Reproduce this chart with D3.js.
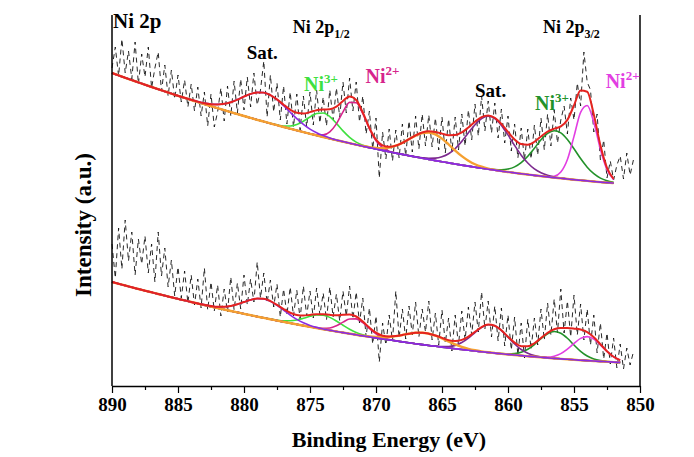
<!DOCTYPE html>
<html>
<head>
<meta charset="utf-8">
<script src="https://cdn.jsdelivr.net/npm/d3@7"></script>
<style>
  html, body { margin: 0; padding: 0; background: #ffffff; }
  svg { display: block; font-family: "Liberation Serif", "Times New Roman", serif; font-weight: bold; }
</style>
</head>
<body>
<svg id="chart" width="694" height="457"></svg>
<script>
// Ni 2p XPS spectra: two samples, raw counts with fitted components.

// Axis ticks (binding energy, eV)
const majorTicks = [890, 885, 880, 875, 870, 865, 860, 855, 850];
const minorTicks = [887.5, 882.5, 877.5, 872.5, 867.5, 862.5, 857.5, 852.5];

// Fit components (same order for both spectra)
const peakNames = ["Sat.", "Ni3+", "Ni2+", "Sat.", "Sat.", "Ni3+", "Ni2+"];
const peakCentersTop = [878.4, 874.0, 871.7, 865.9, 861.4, 856.4, 854.1];
const peakHeightsTop = [29, 24, 43, 27, 53, 47, 76];
const peakFwhmTop = [4.2, 2.8, 2.2, 3.8, 3.9, 3.6, 2.0];
const peakCentersBottom = [878.5, 874.0, 871.6, 866.3, 861.3, 856.4, 854.0];
const peakHeightsBottom = [19, 14, 16, 12, 28, 27, 24];
const peakFwhmBottom = [3.6, 3.1, 2.3, 3.8, 3.1, 3.0, 2.7];

// Backgrounds, every 0.5 eV from 890 eV
const bgTop = [
  315.0, 312.6, 310.2, 307.9, 305.6, 303.3, 301.0, 298.8, 296.6, 294.4,
  292.2, 290.1, 288.0, 285.9, 283.8, 281.8, 279.8, 277.8, 275.8, 273.9,
  272.0, 270.1, 268.2, 266.4, 264.6, 262.8, 261.0, 259.3, 257.6, 255.9,
  254.2, 252.6, 251.0, 249.4, 247.8, 246.3, 244.8, 243.3, 241.8, 240.4,
  239.0, 237.6, 236.2, 234.9, 233.6, 232.3, 231.0, 229.8, 228.6, 227.4,
  226.3, 225.1, 224.0, 222.9, 221.9, 220.8, 219.8, 218.8, 217.9, 216.9,
  216.0, 215.1, 214.3, 213.5, 212.6, 211.9, 211.1, 210.4, 209.7, 209.0,
  208.3, 207.7, 207.1, 206.5, 205.9, 205.4, 204.9
];
const bgBottom = [
  106.0, 104.2, 102.5, 100.7, 99.0, 97.3, 95.7, 94.0, 92.4, 90.7,
  89.1, 87.6, 86.0, 84.5, 82.9, 81.4, 79.9, 78.5, 77.0, 75.6,
  74.2, 72.8, 71.4, 70.1, 68.8, 67.4, 66.1, 64.9, 63.6, 62.4,
  61.2, 60.0, 58.8, 57.6, 56.5, 55.4, 54.3, 53.2, 52.1, 51.1,
  50.1, 49.0, 48.1, 47.1, 46.1, 45.2, 44.3, 43.4, 42.5, 41.7,
  40.9, 40.0, 39.2, 38.5, 37.7, 37.0, 36.3, 35.6, 34.9, 34.2,
  33.6, 33.0, 32.4, 31.8, 31.2, 30.7, 30.1, 29.6, 29.1, 28.7,
  28.2, 27.8, 27.4, 27.0, 26.6, 26.3, 25.9, 25.6
];

// Raw counts, every 0.25 eV from 890 eV
const rawTop = [
  320, 341, 312, 349, 315, 337, 309, 346, 304, 334,
  311, 341, 300, 320, 336, 297, 323, 292, 318, 289,
  313, 286, 308, 281, 304, 277, 301, 272, 296, 262,
  294, 261, 276, 300, 267, 302, 272, 307, 275, 309,
  278, 311, 281, 315, 283, 298, 327, 271, 313, 276,
  305, 268, 302, 264, 296, 261, 294, 258, 292, 261,
  296, 263, 298, 265, 291, 262, 298, 268, 300, 271,
  306, 275, 310, 277, 306, 266, 292, 254, 277, 239,
  270, 210, 256, 229, 259, 227, 258, 230, 264, 232,
  267, 236, 272, 239, 274, 242, 273, 241, 270, 238,
  271, 235, 269, 236, 271, 238, 274, 242, 278, 248,
  284, 252, 292, 257, 287, 255, 285, 250, 279, 245,
  272, 237, 264, 230, 260, 228, 259, 229, 263, 233,
  270, 238, 274, 242, 278, 245, 268, 282, 254, 290,
  268, 305, 282, 336, 306, 298, 256, 274, 228, 248,
  210, 227, 208, 223, 232, 209, 235, 213, 228
];
const rawBottom = [
  144, 110, 160, 119, 168, 127, 156, 113, 149, 124,
  152, 115, 144, 106, 156, 112, 140, 101, 128, 92,
  121, 90, 117, 85, 113, 83, 109, 80, 120, 78,
  106, 77, 103, 72, 99, 76, 111, 78, 105, 79,
  113, 83, 109, 86, 126, 90, 115, 85, 108, 81,
  104, 71, 99, 73, 101, 72, 98, 69, 102, 72,
  97, 70, 100, 73, 95, 68, 101, 71, 94, 67,
  97, 72, 102, 69, 96, 65, 90, 51, 80, 44,
  72, 26, 65, 43, 73, 47, 97, 50, 79, 49,
  82, 53, 86, 51, 79, 56, 87, 48, 75, 43,
  78, 45, 70, 37, 73, 43, 77, 48, 81, 53,
  86, 56, 96, 59, 87, 51, 82, 47, 80, 42,
  73, 38, 71, 33, 65, 30, 69, 39, 70, 43,
  79, 48, 85, 53, 89, 55, 99, 55, 87, 51,
  93, 53, 84, 48, 79, 43, 73, 35, 65, 29,
  55, 24, 50, 20, 44, 19, 40, 23, 36
];

const startEnergy = 890;
const fitStep = 0.5;
const rawStep = 0.25;

// Component styling
const peakColors = ["#8a2be2", "#3fe03f", "#d6248c", "#f5a030", "#7d2a8f", "#23922a", "#e23ee2"];
const peakWidths = [1.6, 1.6, 1.6, 2.4, 1.6, 1.6, 1.6];
const drawOrder = [1, 2, 5, 6, 4, 3, 0];
const envelopeColor = "#e5231f";

const svg = d3.select("#chart");
const x = d3.scaleLinear().domain([890, 850]).range([112, 640]);
const y = d3.scaleLinear().domain([2, 375]).range([386, 13]);

const gauss = (E, c, h, w) => h * Math.exp(-4 * Math.LN2 * (E - c) * (E - c) / (w * w));

function drawSpectrum(bg, raw, centers, heights, fwhm) {
  const g = svg.append("g");
  const fitE = bg.map((_, i) => startEnergy - fitStep * i);
  const rawE = raw.map((_, i) => startEnergy - rawStep * i);
  const line = d3.line().x(d => x(d[0])).y(d => y(d[1])).curve(d3.curveMonotoneX);

  // raw counts
  g.append("path")
    .datum(raw.map((v, i) => [rawE[i], v]))
    .attr("d", d3.line().x(d => x(d[0])).y(d => y(d[1])))
    .attr("fill", "none")
    .attr("stroke", "#111")
    .attr("stroke-width", 0.9)
    .attr("stroke-dasharray", "5,4");

  // individual components on the background
  drawOrder.forEach(k => {
    const pts = fitE.map((E, i) => [E, bg[i] + gauss(E, centers[k], heights[k], fwhm[k])]);
    g.append("path")
      .datum(pts)
      .attr("d", line)
      .attr("fill", "none")
      .attr("stroke", peakColors[k])
      .attr("stroke-width", peakWidths[k]);
  });

  // envelope
  const env = fitE.map((E, i) => [E, bg[i] + d3.sum(centers, (c, k) => gauss(E, c, heights[k], fwhm[k]))]);
  g.append("path")
    .datum(env)
    .attr("d", line)
    .attr("fill", "none")
    .attr("stroke", envelopeColor)
    .attr("stroke-width", 2);
}

drawSpectrum(bgBottom, rawBottom, peakCentersBottom, peakHeightsBottom, peakFwhmBottom);
drawSpectrum(bgTop, rawTop, peakCentersTop, peakHeightsTop, peakFwhmTop);

// Frame: left and right sides
svg.append("line").attr("x1", 112).attr("x2", 112).attr("y1", 15).attr("y2", 386)
  .attr("stroke", "#000").attr("stroke-width", 1.5);
svg.append("line").attr("x1", 640).attr("x2", 640).attr("y1", 15).attr("y2", 386)
  .attr("stroke", "#000").attr("stroke-width", 1.5);

// Bottom axis
const axisG = svg.append("g").attr("transform", "translate(0,386)");
axisG.call(d3.axisBottom(x).tickValues(majorTicks).tickSize(7).tickSizeOuter(0)
  .tickPadding(5).tickFormat(d3.format("d")));
axisG.select(".domain").attr("stroke-width", 1.5);
axisG.selectAll(".tick line").attr("stroke-width", 1.2);
axisG.selectAll(".tick text")
  .attr("font-family", "Liberation Serif, Times New Roman, serif")
  .attr("font-weight", "bold")
  .attr("font-size", 19)
  .attr("fill", "#000");
const minorG = svg.append("g").attr("transform", "translate(0,386)");
minorG.call(d3.axisBottom(x).tickValues(minorTicks).tickSize(4).tickFormat(""));
minorG.select(".domain").remove();
minorG.selectAll(".tick line").attr("stroke-width", 1.2);

// Axis titles
svg.append("text").attr("x", 389).attr("y", 447).attr("text-anchor", "middle")
  .attr("font-size", 22).text("Binding Energy (eV)");
svg.append("text").attr("transform", "translate(91,225) rotate(-90)")
  .attr("text-anchor", "middle").attr("font-size", 23).text("Intensity (a.u.)");

// Annotations
function label(xPos, yPos, main, extra, color, size, shift) {
  const t = svg.append("text").attr("x", xPos).attr("y", yPos)
    .attr("font-size", size).attr("fill", color);
  t.append("tspan").text(main);
  if (extra) {
    t.append("tspan").attr("dy", shift).attr("font-size", Math.round(size * 0.66)).text(extra);
  }
}
label(113, 28, "Ni 2p", null, "#000", 21, 0);
label(x(876.3), 33, "Ni 2p", "1/2", "#000", 18, 5);
label(x(857.35), 33, "Ni 2p", "3/2", "#000", 18, 5);
label(x(879.8), 59, "Sat.", null, "#000", 19, 0);
label(x(862.5), 97, "Sat.", null, "#000", 19, 0);
label(x(875.45), 91, "Ni", "3+", "#3fe03f", 20, -8);
label(x(870.8), 83, "Ni", "2+", "#d6248c", 20, -8);
label(x(857.95), 110, "Ni", "3+", "#23922a", 20, -8);
label(x(852.6), 88, "Ni", "2+", "#e23ee2", 20, -8);
</script>
</body>
</html>
